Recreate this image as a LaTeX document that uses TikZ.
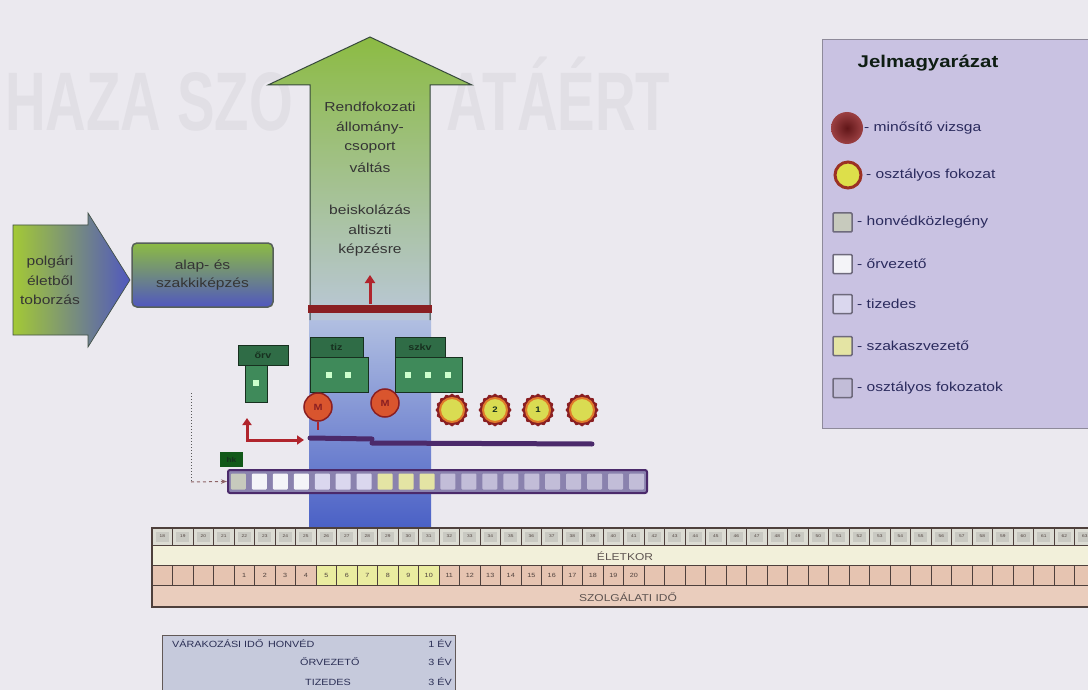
\documentclass[tikz,border=0pt]{standalone}
\usepackage{fontspec}
\setmainfont{Liberation Sans}[FakeStretch=1.2]
\usetikzlibrary{shapes.geometric,arrows.meta}

\definecolor{bgcol}{HTML}{EBE9EF}
\definecolor{wmark}{HTML}{E1DFE5}
\definecolor{legcol}{HTML}{C9C2E2}
\definecolor{legborder}{HTML}{8E8A9A}
\definecolor{textgray}{HTML}{353535}
\definecolor{arrowgreen}{HTML}{8CBB43}
\definecolor{shaftblue}{HTML}{BAC7D8}
\definecolor{bandtop}{HTML}{B4C2E2}
\definecolor{bandbot}{HTML}{4B61C6}
\definecolor{darkred}{HTML}{8A1F22}
\definecolor{redarrow}{HTML}{B0242C}
\definecolor{mred}{HTML}{D9552E}
\definecolor{gradeyellow}{HTML}{D9DC52}
\definecolor{gradering}{HTML}{E07A2A}
\definecolor{boxgreen}{HTML}{2F6C46}
\definecolor{midgreen}{HTML}{3F8A5A}
\definecolor{darkgreen}{HTML}{17301F}
\definecolor{barpurple}{HTML}{4B2A6B}
\definecolor{barbg}{HTML}{8A82AE}
\definecolor{hkcol}{HTML}{C7CABD}
\definecolor{orvcol}{HTML}{F4F4F8}
\definecolor{tizcol}{HTML}{DAD7EE}
\definecolor{szkvcol}{HTML}{E4E4A4}
\definecolor{osztcol}{HTML}{C2BDD8}
\definecolor{sqborder}{HTML}{6E6A7C}
\definecolor{rowline}{HTML}{4E403C}
\definecolor{agecol}{HTML}{DCDCD3}
\definecolor{eletcol}{HTML}{F2F0DA}
\definecolor{szolgcol}{HTML}{E6C4B1}
\definecolor{tablecol}{HTML}{C6CADC}
\definecolor{tabletext}{HTML}{2B2F55}

\tikzset{
  lbl/.style={font=\fontsize{13}{19.5}\selectfont, text=textgray, align=center, inner sep=0pt},
  wmtext/.style={text=wmark, font=\fontsize{10}{12}\selectfont\bfseries, inner sep=0pt, anchor=base west},
  legtext/.style={anchor=west, font=\fontsize{13}{15}\selectfont, text=textgray!80!blue, inner sep=0pt},
  legsq/.style={draw=sqborder, line width=1.5pt, fill=#1, minimum size=19pt, inner sep=0pt, rounded corners=1pt},
  rankcell/.style={fill=#1, minimum width=15pt, minimum height=16pt, inner sep=0pt, rounded corners=1pt},
  greenlab/.style={draw=darkgreen, line width=1pt, fill=boxgreen, font=\fontsize{9}{10}\selectfont\bfseries, text=darkgreen, inner sep=0pt},
  greenbox/.style={draw=darkgreen, line width=1pt, fill=midgreen, inner sep=0pt},
  dotbox/.style={fill=white!80!green, minimum size=6pt, inner sep=0pt},
  exam/.style={circle, draw=darkred, line width=1.5pt, fill=mred, minimum size=28pt, inner sep=0pt, font=\fontsize{9}{10}\selectfont\bfseries, text=darkred},
  gradeedge/.style={star, star points=16, star point ratio=1.12, fill=darkred, minimum size=33pt, inner sep=0pt},
  grade/.style={circle, draw=gradering, line width=2pt, fill=gradeyellow, minimum size=24pt, inner sep=0pt, font=\fontsize{8}{9}\selectfont\bfseries, text=darkgreen},
  agenum/.style={fill=agecol!80!gray, minimum width=13pt, minimum height=10pt, inner sep=0pt, font=\fontsize{4}{5}\selectfont, text=rowline},
  svcnum/.style={fill=szolgcol!70!white, minimum width=13pt, minimum height=13pt, inner sep=0pt, font=\fontsize{6}{7}\selectfont, text=rowline},
  tabtext/.style={font=\fontsize{9}{10}\selectfont, text=tabletext, inner sep=0pt}
}

\begin{document}
\begin{tikzpicture}[x=1pt,y=-1pt]
 \useasboundingbox (0,0) rectangle (1088,690);
 \fill[bgcol] (0,0) rectangle (1088,690);
 % faint print-through behind the arrow
 \node[wmtext] (wmleft) at (5,131) {\scalebox{4.69}[8.3]{HAZA SZO}};
 \node[wmtext] (wmright) at (446,131) {\scalebox{4.69}[8.3]{ATÁÉRT}};

 % big arrow and blue band
 \fill[top color=bandtop, bottom color=bandbot] (309,313) rectangle (431,527);
 \draw[top color=arrowgreen, bottom color=shaftblue, draw=darkgreen!70!gray, line width=1pt] (310,320) -- (310,85) -- (268,85) -- (370,37) -- (472,85) -- (430,85) -- (430,320);
 \foreach \t/\y [count=\k] in {Rendfokozati/107,állomány-/128,csoport/148,váltás/168}
   \node[lbl] (change\k) at (370,\y) {\t};
 \foreach \t/\y [count=\k] in {beiskolázás/210,altiszti/230,képzésre/250}
   \node[lbl] (school\k) at (370,\y) {\t};
 \fill[darkred] (308,305) rectangle (432,313);
 \coordinate (upfoot) at (370,304);
 \coordinate (uphead) at (370,275);
 \draw[-{Triangle[width=10pt,length=8pt]}, line width=3pt, redarrow] (upfoot) -- (uphead);

 % entry
 \draw[left color=arrowgreen!80!yellow, right color=bandbot!90!violet, draw=darkgreen!60!gray, line width=.7pt] (13,225) -- (88,225) -- (88,213) -- (130,280) -- (88,347) -- (88,335) -- (13,335) -- cycle;
 \foreach \t/\y [count=\k] in {polgári/262,életből/281,toborzás/300}
   \node[lbl] (civil\k) at (50,\y) {\t};
 \node[draw=darkgreen!40!gray, line width=1.5pt, rounded corners=5pt, top color=arrowgreen, middle color=gradeyellow!45!white, bottom color=bandbot!90!violet, minimum width=141pt, minimum height=64pt] (basic) at (202.5,275) {};
 \node[lbl] (basic1) at (202.5,266) {alap- és};
 \node[lbl] (basic2) at (202.5,284) {szakkiképzés};

 % rank boxes
 \node[greenbox, minimum width=22pt, minimum height=37pt] (orvbox) at (256,383.5) {};
 \node[greenlab, minimum width=50pt, minimum height=20pt] (orvlab) at (263,355) {őrv};
 \node[dotbox] (orvd1) at (256,383) {};
 \node[greenbox, minimum width=58pt, minimum height=35pt] (tizbox) at (339,374.5) {};
 \node[greenlab, minimum width=53pt, minimum height=20pt] (tizlab) at (336.5,347) {tiz};
 \node[dotbox] (tizd1) at (329,375) {};
 \node[dotbox] (tizd2) at (348,375) {};
 \node[greenbox, minimum width=67pt, minimum height=35pt] (szkvbox) at (428.5,374.5) {};
 \node[greenlab, minimum width=50pt, minimum height=20pt] (szkvlab) at (420,347) {szkv};
 \node[dotbox] (szkvd1) at (408,375) {};
 \node[dotbox] (szkvd2) at (428,375) {};
 \node[dotbox] (szkvd3) at (448,375) {};

 % exams and grades
 \node[exam] (M1) at (318,407) {M};
 \node[exam] (M2) at (385,403) {M};
 \foreach \x/\t [count=\k] in {452/{},495/2,538/1,582/{}} {
   \node[gradeedge] (ge\k) at (\x,410) {};
   \node[grade] (g\k) at (\x,410) {\t};
 }

 % time line
 \draw[line width=5pt, barpurple, line cap=round] (310,438) -- (372,439);
 \draw[line width=5pt, barpurple, line cap=round] (372,443) -- (592,444);
 \draw[line width=1.5pt, redarrow] (M1.south) -- ++(0,8);
 \coordinate (ltop) at (247,418);
 \coordinate (lcorner) at (247,440);
 \coordinate (lend) at (304,440);
 \draw[{Triangle[width=9pt,length=7pt]}-{Triangle[width=9pt,length=7pt]}, line width=3pt, redarrow] (ltop) -- (lcorner) -- (lend);

 % rank bar
 \node[draw=barpurple, fill=barbg, line width=2pt, rounded corners=2pt, minimum width=419pt, minimum height=23pt, inner sep=0pt] (rankbar) at (437.5,481.5) {};
 \foreach \c [count=\i] in {hkcol,orvcol,orvcol,orvcol,tizcol,tizcol,tizcol,szkvcol,szkvcol,szkvcol,osztcol,osztcol,osztcol,osztcol,osztcol,osztcol,osztcol,osztcol,osztcol,osztcol}
   \node[rankcell=\c] (r\i) at ({228+20.95*(\i-0.5)},481.5) {};
 \node[fill=darkgreen!80!green, minimum width=23pt, minimum height=15pt, inner sep=0pt, font=\fontsize{7}{8}\selectfont\bfseries, text=darkgreen] (hk) at (231.5,459.5) {hk};
 \coordinate (dtop) at (191,393);
 \coordinate (dbend) at (191,482);
 \draw[dotted, line width=1pt, gray!70!black] (dtop) -- (dbend);
 \draw[dashed, -{Stealth[length=6pt]}, line width=1pt, gray!70!redarrow] (dbend) -- (rankbar.west);

 % age and service rows
 \fill[agecol] (152,528) rectangle (1095,545);
 \fill[eletcol] (152,545) rectangle (1095,565);
 \fill[szolgcol] (152,565) rectangle (1095,585);
 \fill[szolgcol!85!white] (152,585) rectangle (1095,607);
 \foreach \i [evaluate=\i as \age using {int(18+\i)}] in {0,...,45}
   \node[agenum] (a\i) at ({152+20.5*\i+10.25},536.5) {\age};
 \foreach \n in {5,...,10}
   \fill[gradeyellow!55!white] ({152+20.5*(\n+3)},565) rectangle ++(20.5,20);
 \foreach \n in {1,...,20}
   \node[svcnum, fill=none] (s\n) at ({152+20.5*(\n+3)+10.25},575) {\n};
 \foreach \i in {0,...,46} {
   \draw[rowline, line width=1pt] ({152+20.5*\i},528) -- ++(0,17);
   \draw[rowline, line width=1pt] ({152+20.5*\i},565) -- ++(0,20);
 }
 \draw[rowline, line width=1.2pt] (1095,528) -- (152,528) -- (152,607) -- (1095,607);
 \draw[rowline, line width=1pt] (152,545) -- (1095,545);
 \draw[rowline, line width=1pt] (152,565) -- (1095,565);
 \draw[rowline, line width=1pt] (152,585) -- (1095,585);
 \node[font=\fontsize{10}{11}\selectfont, text=rowline!70!gray, inner sep=0pt] (agelabel) at (625,556) {ÉLETKOR};
 \node[font=\fontsize{10}{11}\selectfont, text=rowline!70!gray, inner sep=0pt] (svclabel) at (628,597) {SZOLGÁLATI IDŐ};

 % waiting times
 \draw[fill=tablecol, draw=rowline!60!gray, line width=1pt] (162,635) rectangle (455,700);
 \node[tabtext, anchor=west] (wait) at (172,644) {VÁRAKOZÁSI IDŐ};
 \node[tabtext, anchor=west] (wait1) at (268,644) {HONVÉD};
 \node[tabtext, anchor=east] (wait1v) at (452,644) {1 ÉV};
 \node[tabtext, anchor=west] (wait2) at (300,662) {ŐRVEZETŐ};
 \node[tabtext, anchor=east] (wait2v) at (452,662) {3 ÉV};
 \node[tabtext, anchor=west] (wait3) at (305,682) {TIZEDES};
 \node[tabtext, anchor=east] (wait3v) at (452,682) {3 ÉV};

 % legend
 \draw[fill=legcol, draw=legborder, line width=1pt] (822,40) rectangle (1095,428);
 \node[font=\fontsize{17}{20}\selectfont\bfseries, text=darkgreen!60!black, inner sep=0pt] (legtitle) at (928,63) {Jelmagyarázat};
 \node[circle, inner color=darkred!70!black, outer color=darkred!85!white, minimum size=32pt] (legM) at (847,128) {};
 \node[legtext] (legMt) at (864,128) {- minősítő vizsga};
 \node[circle, draw=darkred!80!gradering, line width=3pt, fill=gradeyellow!90!yellow, minimum size=26pt] (legG) at (848,175) {};
 \node[legtext] (legGt) at (866,175) {- osztályos fokozat};
 \node[legsq=hkcol] (leg1) at (842.5,222.5) {};
 \node[legtext] (leg1t) at (857,222.5) {- honvédközlegény};
 \node[legsq=orvcol] (leg2) at (842.5,264) {};
 \node[legtext] (leg2t) at (857,264) {- őrvezető};
 \node[legsq=tizcol] (leg3) at (842.5,304) {};
 \node[legtext] (leg3t) at (857,304) {- tizedes};
 \node[legsq=szkvcol] (leg4) at (842.5,346) {};
 \node[legtext] (leg4t) at (857,346) {- szakaszvezető};
 \node[legsq=osztcol] (leg5) at (842.5,388) {};
 \node[legtext] (leg5t) at (857,388) {- osztályos fokozatok};
\end{tikzpicture}
\end{document}
